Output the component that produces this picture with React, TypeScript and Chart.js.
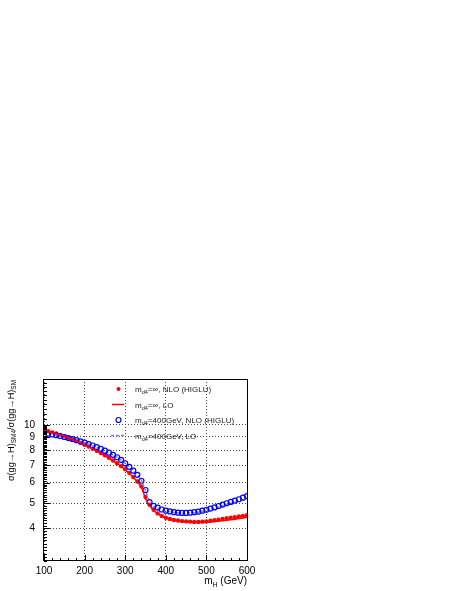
import { useEffect, useRef } from "react";
import { Chart, registerables } from "chart.js";

Chart.register(...registerables);

const FONT = '"Liberation Sans", Arial, Helvetica, sans-serif';

// Higgs masses (GeV)
const massesNLO = [110, 120, 130, 140, 150, 160, 170, 180, 190, 200, 210, 220, 230, 240, 250, 260, 270, 280, 290, 300, 310, 320, 330, 340, 350, 360, 370, 380, 390, 400, 410, 420, 430, 440, 450, 460, 470, 480, 490, 500, 510, 520, 530, 540, 550, 560, 570, 580, 590, 600];
const massesLO = [100, 110, 120, 130, 140, 150, 160, 170, 180, 190, 200, 210, 220, 230, 240, 250, 260, 270, 280, 290, 300, 310, 320, 330, 340, 350, 360, 370, 380, 390, 400, 410, 420, 430, 440, 450, 460, 470, 480, 490, 500, 510, 520, 530, 540, 550, 560, 570, 580, 590, 600];

// m_d4 = infinity, NLO (HIGLU)
const nloInf = [9.45, 9.36, 9.26, 9.15, 9.03, 8.91, 8.79, 8.66, 8.53, 8.39, 8.25, 8.10, 7.95, 7.80, 7.64, 7.47, 7.30, 7.12, 6.94, 6.75, 6.54, 6.30, 6.06, 5.80, 5.28, 4.93, 4.72, 4.57, 4.47, 4.40, 4.35, 4.31, 4.29, 4.27, 4.26, 4.25, 4.24, 4.24, 4.25, 4.26, 4.28, 4.30, 4.32, 4.35, 4.38, 4.40, 4.42, 4.45, 4.47, 4.50];
// m_d4 = infinity, LO
const loInf = [9.57, 9.47, 9.37, 9.27, 9.16, 9.04, 8.92, 8.79, 8.66, 8.52, 8.38, 8.24, 8.09, 7.94, 7.78, 7.62, 7.45, 7.28, 7.10, 6.92, 6.73, 6.52, 6.29, 6.05, 5.77, 5.20, 4.90, 4.69, 4.55, 4.46, 4.39, 4.34, 4.30, 4.27, 4.25, 4.24, 4.23, 4.22, 4.22, 4.22, 4.23, 4.24, 4.25, 4.27, 4.28, 4.30, 4.32, 4.34, 4.37, 4.39, 4.42];
// m_d4 = 400 GeV, NLO (HIGLU)
const nlo400 = [9.25, 9.19, 9.13, 9.06, 8.98, 8.90, 8.82, 8.73, 8.64, 8.54, 8.44, 8.33, 8.21, 8.09, 7.96, 7.82, 7.67, 7.51, 7.34, 7.12, 6.90, 6.67, 6.43, 6.10, 5.62, 5.05, 4.88, 4.81, 4.73, 4.68, 4.65, 4.62, 4.60, 4.59, 4.59, 4.60, 4.62, 4.64, 4.68, 4.72, 4.77, 4.82, 4.88, 4.94, 5.00, 5.06, 5.12, 5.18, 5.25, 5.32];
// m_d4 = 400 GeV, LO
const lo400 = [9.38, 9.31, 9.24, 9.16, 9.08, 9.00, 8.91, 8.82, 8.73, 8.63, 8.53, 8.43, 8.32, 8.20, 8.08, 7.95, 7.81, 7.66, 7.50, 7.33, 7.12, 6.91, 6.68, 6.44, 6.13, 5.58, 5.03, 4.86, 4.78, 4.72, 4.67, 4.64, 4.61, 4.59, 4.58, 4.58, 4.59, 4.60, 4.62, 4.65, 4.69, 4.73, 4.78, 4.83, 4.88, 4.94, 4.99, 5.05, 5.11, 5.17, 5.23];

const xTicks = [100, 200, 300, 400, 500, 600];
const xMinorTicks = [120, 140, 160, 180, 220, 240, 260, 280, 320, 340, 360, 380, 420, 440, 460, 480, 520, 540, 560, 580];
const yTicks = [4, 5, 6, 7, 8, 9, 10];

type Part = { t: string; sub?: boolean };
const legendLabels: Part[][] = [
  [{ t: "m" }, { t: "d4", sub: true }, { t: "=\u221e, NLO (HIGLU)" }],
  [{ t: "m" }, { t: "d4", sub: true }, { t: "=\u221e, LO" }],
  [{ t: "m" }, { t: "d4", sub: true }, { t: "=400GeV, NLO (HIGLU)" }],
  [{ t: "m" }, { t: "d4", sub: true }, { t: "=400GeV, LO" }],
];
const yTitle: Part[] = [
  { t: "\u03c3(gg\u2192H)" },
  { t: "SM4", sub: true },
  { t: "/\u03c3(gg\u2192H)" },
  { t: "SM", sub: true },
];
const xTitle: Part[] = [{ t: "m" }, { t: "H", sub: true }, { t: " (GeV)" }];

const RED = "#ff0000";
const BLUE = "#0000ff";
const LIGHTBLUE = "#7b7bff";

function richWidth(ctx: CanvasRenderingContext2D, parts: Part[], size: number) {
  let w = 0;
  for (const p of parts) {
    ctx.font = `${p.sub ? size * 0.7 : size}px ${FONT}`;
    w += ctx.measureText(p.t).width;
  }
  return w;
}

function drawRich(ctx: CanvasRenderingContext2D, parts: Part[], x: number, y: number, size: number) {
  let cx = x;
  ctx.textAlign = "left";
  ctx.textBaseline = "alphabetic";
  for (const p of parts) {
    ctx.font = `${p.sub ? size * 0.7 : size}px ${FONT}`;
    ctx.fillText(p.t, cx, p.sub ? y + size * 0.3 : y);
    cx += ctx.measureText(p.t).width;
  }
}

const overlay = {
  id: "overlay",
  afterDraw(chart: any) {
    const { ctx, chartArea: a, scales } = chart;
    const xs = scales.x;
    const ys = scales.y;
    ctx.save();
    ctx.setLineDash([]);
    ctx.strokeStyle = "#000";
    ctx.lineWidth = 1;
    // tick marks (inside frame)
    ctx.beginPath();
    for (const v of xTicks) {
      const px = Math.round(xs.getPixelForValue(v)) + 0.5;
      ctx.moveTo(px, a.bottom);
      ctx.lineTo(px, a.bottom - 6);
    }
    for (const v of xMinorTicks) {
      const px = Math.round(xs.getPixelForValue(v)) + 0.5;
      ctx.moveTo(px, a.bottom);
      ctx.lineTo(px, a.bottom - 3);
    }
    for (const v of yTicks) {
      const py = Math.round(ys.getPixelForValue(v)) + 0.5;
      ctx.moveTo(a.left, py);
      ctx.lineTo(a.left + 6, py);
    }
    for (let i = 30; i <= 150; i += i < 100 ? 1 : 5) {
      const v = i / 10;
      if (yTicks.includes(v)) continue;
      const py = Math.round(ys.getPixelForValue(v)) + 0.5;
      ctx.moveTo(a.left, py);
      ctx.lineTo(a.left + 3, py);
    }
    ctx.stroke();
    // frame
    ctx.strokeRect(Math.round(a.left) - 0.5, Math.round(a.top) + 0.5, Math.round(a.right - a.left) + 1, Math.round(a.bottom - a.top) - 1);

    // legend
    const rows = [389, 404.5, 420, 435.5];
    const mx = 118.5;
    ctx.fillStyle = RED;
    ctx.beginPath();
    ctx.arc(mx, rows[0], 2, 0, Math.PI * 2);
    ctx.fill();
    ctx.strokeStyle = RED;
    ctx.lineWidth = 1.5;
    ctx.beginPath();
    ctx.moveTo(112, rows[1]);
    ctx.lineTo(124, rows[1]);
    ctx.stroke();
    ctx.strokeStyle = BLUE;
    ctx.lineWidth = 1.2;
    ctx.beginPath();
    ctx.arc(mx, rows[2], 2.5, 0, Math.PI * 2);
    ctx.stroke();
    ctx.strokeStyle = LIGHTBLUE;
    ctx.lineWidth = 1.5;
    ctx.setLineDash([3, 2]);
    ctx.beginPath();
    ctx.moveTo(111, rows[3]);
    ctx.lineTo(126, rows[3]);
    ctx.stroke();
    ctx.setLineDash([]);
    ctx.fillStyle = "#222";
    legendLabels.forEach((parts, i) => drawRich(ctx, parts, 135, rows[i] + 3, 8));

    // x title (right aligned to frame)
    ctx.fillStyle = "#000";
    const xw = richWidth(ctx, xTitle, 10);
    drawRich(ctx, xTitle, a.right - xw, 584, 10);

    // y title (rotated, aligned to top of frame)
    const yw = richWidth(ctx, yTitle, 9.2);
    ctx.save();
    ctx.translate(13.5, a.top + 1);
    ctx.rotate(-Math.PI / 2);
    drawRich(ctx, yTitle, -yw, 0, 9.2);
    ctx.restore();

    ctx.restore();
  },
};

export default function App() {
  const ref = useRef<HTMLCanvasElement | null>(null);

  useEffect(() => {
    if (!ref.current) return;
    const pts = (xs: number[], ys: number[]) => xs.map((x, i) => ({ x, y: ys[i] }));
    const chart = new Chart(ref.current, {
      type: "scatter",
      data: {
        datasets: [
          {
            label: "LO inf",
            data: pts(massesLO, loInf),
            showLine: true,
            borderColor: RED,
            borderWidth: 1.5,
            pointRadius: 0,
            order: 1,
          },
          {
            label: "NLO inf",
            data: pts(massesNLO, nloInf),
            showLine: false,
            pointStyle: "circle",
            pointRadius: 2.2,
            pointBorderWidth: 0,
            backgroundColor: RED,
            borderColor: RED,
            order: 4,
          },
          {
            label: "LO 400",
            data: pts(massesLO, lo400),
            showLine: true,
            borderColor: LIGHTBLUE,
            borderWidth: 1.5,
            borderDash: [3, 2],
            pointRadius: 0,
            order: 3,
          },
          {
            label: "NLO 400",
            data: pts(massesNLO, nlo400),
            showLine: false,
            pointStyle: "circle",
            pointRadius: 2.5,
            pointBorderWidth: 1.2,
            backgroundColor: "rgba(0,0,0,0)",
            borderColor: BLUE,
            order: 2,
          },
        ],
      } as any,
      options: {
        animation: false,
        responsive: false,
        events: [],
        layout: { padding: { left: 0, top: 379, right: 210, bottom: 0 } },
        plugins: { legend: { display: false }, tooltip: { enabled: false } },
        scales: {
          x: {
            type: "linear",
            min: 100,
            max: 600,
            afterBuildTicks: (s: any) => {
              s.ticks = xTicks.map((v) => ({ value: v }));
            },
            afterFit: (s: any) => {
              s.height = 30;
            },
            grid: { color: "#444", lineWidth: 1, drawTicks: false },
            border: { display: false, dash: [1, 2] },
            ticks: {
              padding: 4,
              color: "#000",
              font: { family: FONT, size: 10 },
              maxRotation: 0,
              autoSkip: false,
              callback: (v: any) => String(v),
            },
          },
          y: {
            type: "logarithmic",
            min: 3,
            max: 15,
            afterBuildTicks: (s: any) => {
              s.ticks = yTicks.map((v) => ({ value: v }));
            },
            afterFit: (s: any) => {
              s.width = 44;
            },
            grid: { color: "#444", lineWidth: 1, drawTicks: false },
            border: { display: false, dash: [1, 2] },
            ticks: {
              padding: 9,
              color: "#000",
              font: { family: FONT, size: 10 },
              autoSkip: false,
              callback: (v: any) => String(v),
            },
          },
        },
      } as any,
      plugins: [overlay],
    });
    return () => chart.destroy();
  }, []);

  return (
    <div style={{ position: "fixed", left: 0, top: 0, width: 457, height: 591, background: "#fff" }}>
      <canvas ref={ref} width={457} height={591} style={{ display: "block", width: 457, height: 591 }} />
    </div>
  );
}
